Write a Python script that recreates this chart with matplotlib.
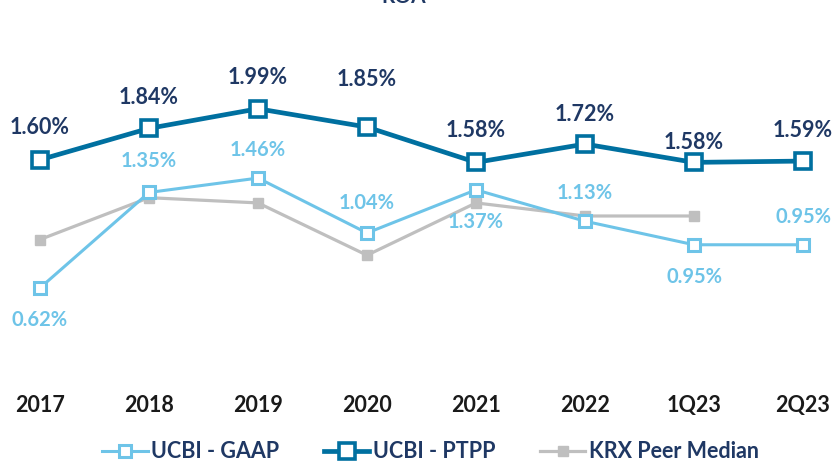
import matplotlib
matplotlib.use("Agg")
import matplotlib.pyplot as plt

plt.rcParams['font.family'] = ['Lato', 'DejaVu Sans']

# data
periods = ['2017', '2018', '2019', '2020', '2021', '2022', '1Q23', '2Q23']
gaap = [0.62, 1.35, 1.46, 1.04, 1.37, 1.13, 0.95, 0.95]
ptpp = [1.60, 1.84, 1.99, 1.85, 1.58, 1.72, 1.58, 1.59]
peer = [0.99, 1.31, 1.27, 0.87, 1.27, 1.17, 1.17]

navy = '#1F3864'
c_gaap = '#6EC4E8'
c_ptpp = '#0070A0'
c_peer = '#BFBFBF'

fig = plt.figure(figsize=(8.36, 4.61), dpi=100)
ax = fig.add_axes([0, 0.1996, 1, 0.7375])
x = list(range(len(periods)))

ax.plot(x[:len(peer)], peer, color=c_peer, lw=2.3, marker='s', ms=7,
        mfc=c_peer, mec=c_peer, label='KRX Peer Median', zorder=2)
ax.plot(x, gaap, color=c_gaap, lw=2.2, marker='s', ms=9, mfc='white',
        mec=c_gaap, mew=2.2, label='UCBI - GAAP', zorder=3)
ax.plot(x, ptpp, color=c_ptpp, lw=3.4, marker='s', ms=11, mfc='white',
        mec=c_ptpp, mew=2.6, label='UCBI - PTPP', zorder=4)

# data labels (offsets in pixels)
ptpp_off = [32, 31, 31, 48, 32, 30, 20, 31]
gaap_off = [-32, 31, 28, 30, -32, 28, -32, 28]
for i, v in enumerate(ptpp):
    ax.annotate(f'{v:.2f}%', (i, v), xytext=(0, ptpp_off[i] * 0.72),
                textcoords='offset points', ha='center', va='center',
                fontsize=15.5, fontweight='bold', color=navy)
for i, v in enumerate(gaap):
    ax.annotate(f'{v:.2f}%', (i, v), xytext=(0, gaap_off[i] * 0.72),
                textcoords='offset points', ha='center', va='center',
                fontsize=14.5, fontweight='bold', color=c_gaap)

ax.set_ylim(0, 2.6)
ax.set_xlim(-40 / 109, (836 - 40) / 109)
ax.set_yticks([])
ax.set_xticks(x)
ax.set_xticklabels(periods, fontsize=15.5, fontweight='bold', color='#1a1a1a')
ax.tick_params(axis='x', length=0, pad=19)
for s in ax.spines.values():
    s.set_visible(False)

handles, labels = ax.get_legend_handles_labels()
order = [1, 2, 0]
fig.legend([handles[i] for i in order], [labels[i] for i in order],
           loc='center', bbox_to_anchor=(0.515, 0.02), ncol=3, frameon=False,
           prop={'weight': 'bold', 'size': 15.5}, labelcolor=navy,
           handlelength=2.1, handletextpad=0.15, columnspacing=2.1)

fig.text(0.483, 0.9935, 'ROA', ha='center', va='baseline', fontsize=15,
         fontweight='bold', color=navy)

fig.savefig('out.png', dpi=100)
